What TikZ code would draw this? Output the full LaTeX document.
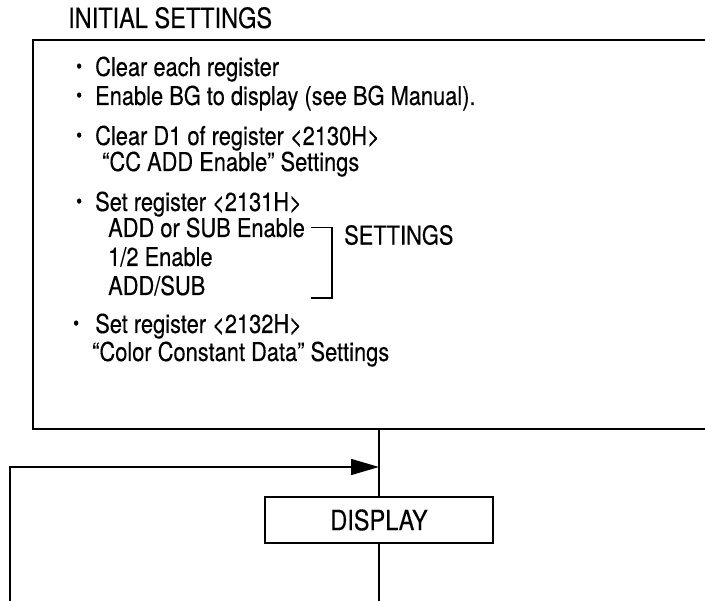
\documentclass[tikz,border=0pt]{standalone}
\usepackage{fontspec}
\setmainfont{TeX Gyre Heros}[FakeStretch=0.84, FakeBold=0.3]
\usetikzlibrary{arrows.meta}
\newcommand{\bul}[1][19pt]{\makebox[#1][l]{\raisebox{3pt}{\fontsize{20}{20}\selectfont\textbullet}}}
\begin{document}
\begin{tikzpicture}[x=1pt, y=-1pt,
    txt/.style={anchor=base west, inner sep=0pt, font=\fontsize{26}{30}\selectfont},
    frame/.style={draw, line width=1.7pt, anchor=north west, inner sep=0pt},
    stepbox/.style={draw, line width=1.4pt, minimum width=228pt,
      minimum height=46pt, inner sep=0pt, font=\fontsize{28}{30}\selectfont},
    flow/.style={line width=1.5pt}
  ]
  \useasboundingbox (0,0) rectangle (705,601);
  \clip (0,0) rectangle (705,601);

  % initial settings block
  \node[txt, font=\fontsize{28}{30}\selectfont] (title) at (68,28) {INITIAL SETTINGS};
  \node[frame, minimum width=700pt, minimum height=389pt] (init) at (32,39) {};
  \node[txt] (clr) at (76,76) {\bul Clear each register};
  \node[txt] (bg) at (76,105) {\bul Enable BG to display (see BG Manual).};
  \node[txt] (d1) at (76,145) {\bul Clear D1 of register <2130H>};
  \node[txt] (ccadd) at (102,171) {“CC ADD Enable” Settings};
  \node[txt] (set1) at (76,211) {\bul Set register <2131H>};
  \node[txt] (addsub) at (108,237) {ADD or SUB Enable};
  \node[txt] (half) at (108,266) {1/2 Enable};
  \node[txt] (addsl) at (108,295) {ADD/SUB};
  \node[txt] (set2) at (73,333) {\bul[16pt] Set register <2132H>};
  \node[txt] (ccdata) at (92,361) {“Color Constant Data” Settings};

  % settings bracket
  \coordinate (brtop) at ([xshift=6pt]addsub.east);
  \draw[flow] (brtop) -- ++(21,0) |- ([yshift=-3pt]addsl.base -| brtop);
  \path (brtop) ++(33,17) node[txt] (sett) {SETTINGS};

  % display loop
  \node[stepbox] (display) at (379,520) {DISPLAY};
  \coordinate (join) at (379,467);
  \coordinate (loopin) at (10,601);
  \coordinate (exit) at (379,601);
  \draw[flow] (display.north |- init.south) -- (display.north);
  \draw[flow, -{Triangle[length=28pt, width=16pt]}] (loopin) |- (join);
  \draw[flow] (display.south) -- (exit);
\end{tikzpicture}
\end{document}
